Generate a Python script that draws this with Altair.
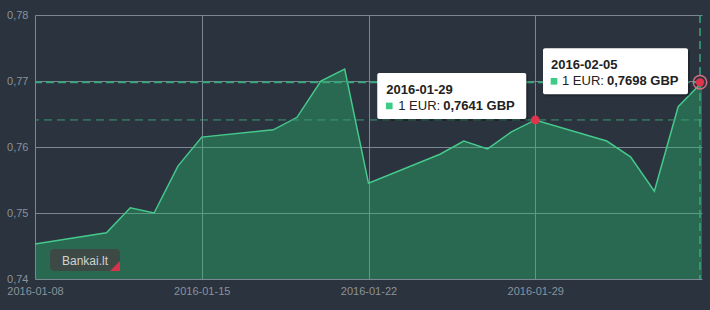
import altair as alt
import pandas as pd

# ---- data ----
dates = ["2016-01-08", "2016-01-11", "2016-01-12", "2016-01-13", "2016-01-14",
         "2016-01-15", "2016-01-18", "2016-01-19", "2016-01-20", "2016-01-21",
         "2016-01-22", "2016-01-25", "2016-01-26", "2016-01-27", "2016-01-28",
         "2016-01-29", "2016-02-01", "2016-02-02", "2016-02-03", "2016-02-04",
         "2016-02-05"]
rates = [0.7453, 0.7470, 0.7508, 0.7500, 0.7571,
         0.7615, 0.7626, 0.7645, 0.7700, 0.7718,
         0.7545, 0.7589, 0.7609, 0.7597, 0.7623,
         0.7641, 0.7609, 0.7585, 0.7533, 0.7661,
         0.7698]
y_ticks = [0.74, 0.75, 0.76, 0.77, 0.78]
x_ticks = [(2016, 1, 8), (2016, 1, 15), (2016, 1, 22), (2016, 1, 29)]
x_domain = [(2016, 1, 8), (2016, 2, 5)]
hl_dates = ["2016-01-29", "2016-02-05"]
hl_rates = [0.7641, 0.7698]
hl_values = ["0,7641 GBP", "0,7698 GBP"]
eur_label = "1 EUR: "
brand = "Bankai.lt"

df = pd.DataFrame({"date": dates, "rate": rates})
hl = pd.DataFrame({"date": hl_dates, "rate": hl_rates, "val": hl_values,
                   "day": ["\u200b" + d for d in hl_dates],
                   "eur": [eur_label] * 2})
hl1 = hl.iloc[[0]]
hl2 = hl.iloc[[1]]

BG = "#2b333e"
FONT = "Liberation Sans"


def dt(t):
    return alt.DateTime(year=t[0], month=t[1], date=t[2], utc=True)


xs = alt.Scale(type="utc", domain=[dt(t) for t in x_domain], nice=False)
ys = alt.Scale(domain=[y_ticks[0], y_ticks[-1]], nice=False, zero=False)

X = alt.X("date:T", scale=xs, title=None,
          axis=alt.Axis(values=[dt(t) for t in x_ticks],
                        labelExpr="utcFormat(datum.value, '%Y-%m-%d')",
                        domain=False, ticks=False, tickSize=0, labelPadding=6,
                        grid=True, gridColor="#7d8794", gridWidth=1,
                        labelColor="#8a929c", labelFontSize=11, labelFont=FONT,
                        labelAlign="center", labelFlush=False))
Y = alt.Y("rate:Q", scale=ys, title=None,
          axis=alt.Axis(values=y_ticks,
                        labelExpr="replace(format(datum.value, '.2f'), '.', ',')",
                        domain=False, ticks=False, tickSize=0, labelPadding=7,
                        grid=True, gridColor="#7d8794", gridWidth=1,
                        labelColor="#8a929c", labelFontSize=11, labelFont=FONT,
                        labelAlign="right"))

Xp = alt.X("date:T", scale=xs)
Yp = alt.Y("rate:Q", scale=ys)

area = alt.Chart(df).mark_area(color="#28b96e", opacity=0.4).encode(
    x=X, y=Y, y2=alt.datum(y_ticks[0]))
line = alt.Chart(df).mark_line(color="#45c98c", strokeWidth=1.5).encode(x=Xp, y=Yp)

rule_h1 = alt.Chart(hl1).mark_rule(color="#3a9b74", strokeDash=[8, 5],
                                   strokeWidth=1).encode(y=Yp)
rule_h2 = alt.Chart(hl2).mark_rule(color="#3aa57a", strokeDash=[8, 4],
                                   strokeWidth=2).encode(y=Yp)
rule_v2 = alt.Chart(hl2).mark_rule(color="#3aa57a", strokeDash=[8, 5],
                                   strokeWidth=1.5, xOffset=-2).encode(x=Xp)

pt1 = alt.Chart(hl1).mark_point(filled=True, color="#e0344c", size=75,
                                opacity=1).encode(x=Xp, y=Yp)
ring2 = alt.Chart(hl2).mark_point(filled=False, color="#e0788a", size=180,
                                  strokeWidth=1.5, opacity=0.9,
                                  xOffset=-2).encode(x=Xp, y=Yp)
pt2 = alt.Chart(hl2).mark_point(filled=True, color="#e0344c", size=70,
                                opacity=1, xOffset=-2).encode(x=Xp, y=Yp)


def tooltip(data, bx0, bx1, by0, by1, tdx, tdy, sdx, ldy, edx, vdx):
    enc = dict(x=Xp, x2=alt.X2("date:T"), y=Yp, y2=alt.Y2("rate:Q"))
    shadow = alt.Chart(data).mark_rect(
        color="#000000", opacity=0.25, cornerRadius=2,
        xOffset=bx0 + 2, x2Offset=bx1 + 2, yOffset=by0 + 2, y2Offset=by1 + 2
    ).encode(**enc)
    box = alt.Chart(data).mark_rect(
        color="#ffffff", opacity=1, cornerRadius=2,
        xOffset=bx0, x2Offset=bx1, yOffset=by0, y2Offset=by1
    ).encode(**enc)
    title = alt.Chart(data).mark_text(
        align="left", baseline="middle", font=FONT, fontSize=13,
        fontWeight="bold", color="#222222", dx=tdx, dy=tdy
    ).encode(x=Xp, y=Yp, text=alt.Text("day:N"))
    sq = alt.Chart(data).mark_square(
        color="#3dcc85", size=44, opacity=1, xOffset=sdx, yOffset=ldy
    ).encode(x=Xp, y=Yp)
    eur = alt.Chart(data).mark_text(
        align="left", baseline="middle", font=FONT, fontSize=13,
        color="#222222", dx=edx, dy=ldy
    ).encode(x=Xp, y=Yp, text=alt.Text("eur:N"))
    val = alt.Chart(data).mark_text(
        align="left", baseline="middle", font=FONT, fontSize=13,
        fontWeight="bold", color="#222222", dx=vdx, dy=ldy
    ).encode(x=Xp, y=Yp, text=alt.Text("val:N"))
    return [shadow, box, title, sq, eur, val]


tt1 = tooltip(hl1, -158, -9, -47, -1, -149, -30, -146, -14, -137, -92)
tt2 = tooltip(hl2, -159, -14, -34, 12, -151, -17, -148, -1, -140, -95)

# watermark badge
badge_df = pd.DataFrame({"t": [brand]})
badge = alt.Chart(badge_df).mark_rect(color="#3f4644", opacity=0.92,
                                      cornerRadius=4).encode(
    x=alt.value(15), x2=alt.value(85), y=alt.value(234), y2=alt.value(256))
badge_txt = alt.Chart(badge_df).mark_text(
    font=FONT, fontSize=12, color="#cfd3d3", align="center",
    baseline="middle").encode(x=alt.value(50), y=alt.value(246), text="t:N")
badge_tri = alt.Chart(badge_df).mark_point(
    shape="M 1 -1 L 1 1 L -1 1 Z", filled=True, size=100, color="#d9334a",
    opacity=1).encode(x=alt.value(80), y=alt.value(251))

chart = alt.layer(
    area, line, rule_h1, rule_h2, rule_v2,
    badge, badge_txt, badge_tri,
    pt1, ring2, pt2, *tt1, *tt2
).properties(
    width=667, height=264,
    autosize=alt.AutoSizeParams(type="none"),
    padding={"left": 35, "top": 15, "right": 8, "bottom": 31},
    background=BG
).configure_view(stroke=None)

chart.save("out.html", embed_options={"renderer": "svg", "actions": False})
